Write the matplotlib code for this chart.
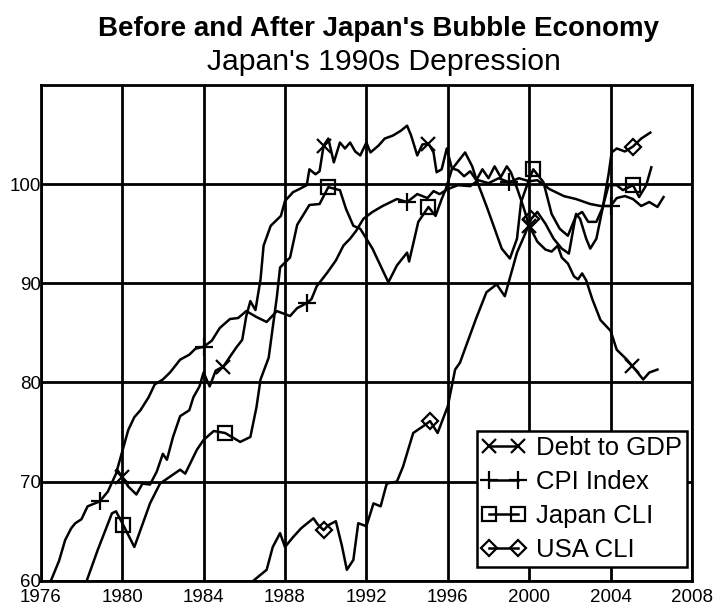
import numpy as np
import matplotlib.pyplot as plt

plt.rcParams['font.family'] = ['Liberation Sans', 'DejaVu Sans']

# values (decimal years)
debt_yr = [1979.75, 1980.0, 1980.3, 1980.7, 1981.0, 1981.37, 1981.7, 1982.0, 1982.2, 1982.5,
           1982.85, 1983.3, 1983.5, 1983.8, 1984.0, 1984.3, 1984.6, 1984.97, 1985.3, 1985.6,
           1985.9, 1986.1, 1986.3, 1986.55, 1986.8, 1986.95, 1987.3, 1987.8, 1988.0, 1988.4,
           1988.7, 1989.07, 1989.2, 1989.5, 1989.7, 1989.9, 1990.13, 1990.4, 1990.7, 1990.95,
           1991.2, 1991.45, 1991.7, 1992.0, 1992.2, 1992.6, 1992.9, 1993.3, 1993.7, 1994.0,
           1994.2, 1994.5, 1994.75, 1995.05, 1995.3, 1995.45, 1995.7, 1995.95, 1996.2, 1996.5,
           1996.8, 1997.1, 1997.4, 1997.7, 1998.0, 1998.3, 1998.6, 1998.9, 1999.1, 1999.4,
           1999.7, 2000.0, 2000.4, 2000.8, 2001.1, 2001.4, 2001.6, 2001.9, 2002.2, 2002.4,
           2002.6, 2002.8, 2003.1, 2003.5, 2004.0, 2004.3, 2004.8, 2005.05, 2005.6, 2005.9,
           2006.3]
debt = [71.2, 70.5, 69.5, 68.7, 69.8, 69.7, 71.0, 72.8, 72.2, 74.5,
        76.6, 77.2, 78.5, 79.6, 81.0, 79.6, 81.2, 81.6, 82.6, 83.5,
        84.3, 86.7, 88.2, 87.3, 90.4, 93.8, 95.8, 96.8, 98.3, 99.2,
        99.5, 99.9, 101.5, 101.0, 101.3, 103.9, 104.6, 102.2, 104.2, 103.6,
        104.2, 103.3, 102.9, 104.2, 103.2, 103.9, 104.6, 104.9, 105.4, 105.9,
        104.9, 102.9, 104.0, 104.1, 103.2, 101.2, 101.5, 103.6, 101.6, 101.4,
        100.8, 101.3, 100.4, 101.5, 100.6, 101.8, 100.7, 101.8, 101.2, 99.6,
        97.8, 95.8, 94.2, 93.4, 93.2, 93.8, 92.6, 92.0, 90.7, 90.4,
        91.0, 90.3, 88.4, 86.3, 85.2, 83.3, 82.3, 81.7, 80.3, 81.0,
        81.3]

cpi_yr = [1976.5, 1976.9, 1977.2, 1977.5, 1977.7, 1978.0, 1978.3, 1978.9, 1979.3, 1979.7,
          1980.0, 1980.3, 1980.6, 1980.9, 1981.3, 1981.6, 1982.0, 1982.35, 1982.85, 1983.3,
          1983.6, 1984.0, 1984.4, 1984.8, 1985.3, 1985.7, 1986.1, 1986.6, 1987.1, 1987.6,
          1988.25, 1988.6, 1989.07, 1989.3, 1989.56, 1990.05, 1990.5, 1990.87, 1991.2, 1991.5,
          1991.85, 1992.3, 1992.8, 1993.5, 1994.0, 1994.5, 1995.0, 1995.3, 1995.6, 1996.0,
          1996.5, 1997.1, 1997.5, 1998.0, 1998.5, 1999.0, 1999.5, 2000.0, 2000.4, 2001.0,
          2001.7, 2002.3, 2003.0, 2003.5, 2004.0, 2004.3, 2004.7, 2005.1, 2005.5, 2005.9,
          2006.3, 2006.6]
cpi = [60.0, 62.0, 64.1, 65.3, 65.8, 66.2, 67.5, 68.0, 69.0, 70.8,
       73.0, 75.2, 76.5, 77.2, 78.5, 79.8, 80.3, 81.0, 82.3, 82.8,
       83.4, 83.6, 84.2, 85.5, 86.4, 86.5, 87.2, 86.6, 86.1, 87.2,
       86.7, 87.5, 88.0, 88.4, 89.7, 91.0, 92.3, 93.8, 94.5, 95.3,
       96.5, 97.2, 97.8, 98.5, 98.2, 99.0, 98.6, 99.3, 99.0, 99.5,
       99.9, 99.8, 100.4, 100.1, 100.6, 100.2, 100.6, 100.3, 100.4, 99.5,
       98.8, 98.5, 98.0, 97.8, 97.8, 98.6, 98.8, 98.5, 97.8, 98.2,
       97.7, 98.7]

jcli_yr = [1978.26, 1978.8, 1979.5, 1979.7, 1980.06, 1980.6, 1981.37, 1981.86, 1982.85, 1983.1,
           1983.67, 1984.0, 1984.5, 1985.06, 1985.8, 1986.3, 1986.6, 1986.8, 1987.2, 1987.6,
           1987.76, 1988.25, 1988.6, 1989.2, 1989.7, 1990.13, 1990.5, 1990.7, 1991.0, 1991.36,
           1991.7, 1992.3, 1993.08, 1993.5, 1994.0, 1994.1, 1994.55, 1995.05, 1995.4, 1995.7,
           1995.9, 1996.2, 1996.85, 1997.2, 1997.4, 1997.9, 1998.25, 1998.65, 1999.05, 1999.4,
           1999.6, 2000.0, 2000.2, 2000.7, 2001.1, 2001.5, 2001.9, 2002.3, 2002.6, 2002.9,
           2003.3, 2003.6, 2003.9, 2004.3, 2004.6, 2005.1, 2005.4, 2005.75, 2006.0]
jcli = [60.0, 63.1, 66.8, 67.0, 65.6, 63.4, 67.8, 69.8, 71.2, 70.8,
        73.2, 74.2, 75.1, 74.9, 74.0, 74.5, 77.5, 80.3, 82.5, 88.6,
        91.6, 92.6, 95.9, 97.9, 98.0, 99.7, 99.5, 99.4, 97.5, 95.8,
        95.5, 93.5, 90.1, 91.8, 93.1, 92.2, 96.2, 97.7, 96.8, 98.5,
        99.5, 101.5, 103.2, 101.8, 100.5, 97.8, 95.8, 93.5, 92.5, 94.5,
        98.2, 100.5, 101.5, 100.2, 97.0, 95.5, 94.8, 96.8, 97.2, 96.2,
        96.2, 97.6, 99.9, 99.9, 99.4, 99.9, 98.7, 99.9, 101.7]

usa_yr = [1986.45, 1986.8, 1987.1, 1987.4, 1987.76, 1988.0, 1988.4, 1988.8, 1989.1, 1989.4,
          1989.6, 1989.9, 1990.13, 1990.5, 1990.8, 1991.04, 1991.36, 1991.6, 1992.0, 1992.35,
          1992.7, 1993.0, 1993.5, 1993.8, 1994.3, 1994.8, 1995.13, 1995.5, 1996.0, 1996.36,
          1996.6, 1996.9, 1997.4, 1997.9, 1998.4, 1998.8, 1999.4, 1999.8, 2000.1, 2000.4,
          2000.8, 2001.2, 2001.6, 2001.95, 2002.3, 2002.5, 2002.8, 2003.0, 2003.3, 2003.6,
          2003.9, 2004.05, 2004.3, 2004.7, 2005.1, 2005.5, 2005.95]
usa = [60.0, 60.6, 61.1, 63.4, 64.8, 63.4, 64.4, 65.3, 65.8, 66.3,
       65.7, 65.1, 65.6, 66.0, 63.5, 61.1, 62.1, 65.8, 65.5, 67.8,
       67.5, 69.8, 70.0, 71.5, 74.9, 75.6, 76.1, 74.9, 77.6, 81.3,
       82.0, 83.7, 86.5, 89.1, 89.9, 88.7, 93.1, 95.0, 96.5, 97.2,
       96.0, 94.5, 93.5, 93.0, 97.0, 96.5, 94.5, 93.5, 94.5, 97.5,
       101.0, 103.2, 103.6, 103.3, 103.8, 104.6, 105.2]

debt_marks = [1980, 1985, 1990, 1995, 2000, 2005]
cpi_marks = [1978.9, 1984.0, 1989.1, 1994.0, 1999.0, 2004.0]
jcli_marks = [1980, 1985, 1990, 1995, 2000.2, 2005]
usa_marks = [1990, 1995, 2000, 2005]


def mark_idx(yrs, targets):
    yrs = np.array(yrs)
    return [int(np.argmin(np.abs(yrs - t))) for t in targets]


fig = plt.figure(figsize=(7.22, 6.07), dpi=100)
ax = fig.add_axes([0.0564, 0.0433, 0.9021, 0.8166])

lw = 1.8
ax.plot(debt_yr, debt, color='black', lw=lw, marker='x', ms=10, mew=1.6,
        markevery=mark_idx(debt_yr, debt_marks), label='Debt to GDP')
ax.plot(cpi_yr, cpi, color='black', lw=lw, marker='+', ms=13, mew=1.6,
        markevery=mark_idx(cpi_yr, cpi_marks), label='CPI Index')
ax.plot(jcli_yr, jcli, color='black', lw=lw, marker='s', ms=10, mew=1.6, mfc='none',
        markevery=mark_idx(jcli_yr, jcli_marks), label='Japan CLI')
ax.plot(usa_yr, usa, color='black', lw=lw, marker='D', ms=8, mew=1.6, mfc='none',
        markevery=mark_idx(usa_yr, usa_marks), label='USA CLI')

ax.set_xlim(1976, 2008)
ax.set_ylim(60, 110)
ax.set_xticks(np.arange(1976, 2009, 4))
ax.set_yticks(np.arange(60, 101, 10))
ax.tick_params(length=0, labelsize=13.5)
ax.tick_params(axis='x', pad=6)
ax.tick_params(axis='y', pad=0)
ax.grid(True, color='black', lw=2)
ax.set_axisbelow(True)
for s in ax.spines.values():
    s.set_linewidth(2)

leg = ax.legend(loc='lower right', bbox_to_anchor=(0.992, 0.028), numpoints=2,
                fontsize=18.5, fancybox=False, edgecolor='black', framealpha=1,
                borderpad=0.2, labelspacing=0.38, handlelength=1.7,
                handletextpad=0.4, borderaxespad=0)
leg.get_frame().set_linewidth(1.8)

fig.text(0.524, 1 - 36 / 607, "Before and After Japan's Bubble Economy",
         ha='center', va='baseline', fontsize=20, fontweight='bold')
fig.text(0.532, 1 - 70 / 607, "Japan's 1990s Depression",
         ha='center', va='baseline', fontsize=21.7)

fig.savefig('out.png', dpi=100)
